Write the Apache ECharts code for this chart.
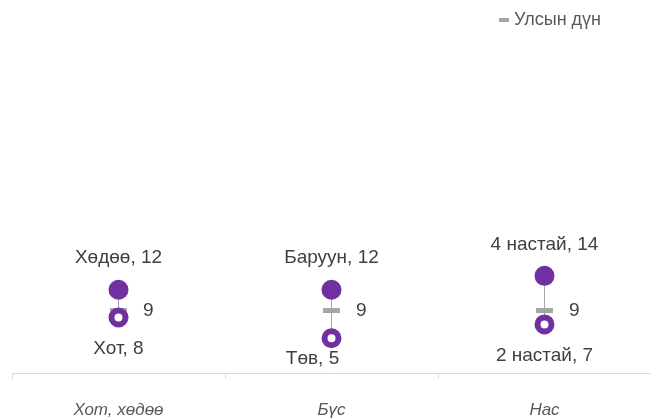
<!DOCTYPE html>
<html>
<head>
<meta charset="utf-8">
<script src="https://cdn.jsdelivr.net/npm/echarts@6/dist/echarts.min.js"></script>
<style>
html,body{margin:0;padding:0;background:#fff;}
#c{width:651px;height:419px;}
</style>
</head>
<body>
<div id="c"></div>
<script>
var categories = ['Хот, хөдөө', 'Бүс', 'Нас'];
var highNames = ['Хөдөө', 'Баруун', '4 настай'];
var highValues = [12, 12, 14];
var lowNames = ['Хот', 'Төв', '2 настай'];
var lowValues = [8, 5, 7];
var nationalName = 'Улсын дүн';
var nationalValues = [9, 9, 9];

var FONT = 'Liberation Sans, Arial, sans-serif';
var PURPLE = '#7030a0';
var GRAY = '#a6a6a6';
var TEXT = '#404040';

var chart = echarts.init(document.getElementById('c'));

var lowData = lowValues.map(function (v, i) {
  var item = { value: v, name: lowNames[i] };
  if (i === 1) {
    item.label = { distance: 1, offset: [-19, 0] };
  }
  return item;
});

var option = {
  animation: false,
  backgroundColor: '#fff',
  grid: { left: 12, width: 643, top: 26, bottom: 46, containLabel: false },
  legend: {
    data: [{ name: nationalName, icon: 'rect' }],
    left: 494, top: 6,
    itemWidth: 10, itemHeight: 4, itemGap: 4,
    textStyle: { color: '#595959', fontSize: 18, fontFamily: FONT }
  },
  xAxis: {
    type: 'category',
    data: categories,
    axisLine: { lineStyle: { color: '#d9d9d9', width: 1 } },
    axisTick: { show: true, length: 6, lineStyle: { color: '#d9d9d9' } },
    axisLabel: { color: '#595959', fontSize: 17, fontStyle: 'italic', fontFamily: FONT, margin: 29 }
  },
  yAxis: {
    type: 'value', min: 0, max: 50, show: false,
    splitLine: { show: false }
  },
  series: [
    {
      type: 'custom',
      name: 'connector',
      silent: true,
      data: categories.map(function (c, i) { return [i, highValues[i], lowValues[i]]; }),
      renderItem: function (params, api) {
        var p1 = api.coord([api.value(0), api.value(1)]);
        var p2 = api.coord([api.value(0), api.value(2)]);
        return {
          type: 'line',
          shape: { x1: p1[0], y1: p1[1], x2: p2[0], y2: p2[1] },
          style: { stroke: GRAY, lineWidth: 1 }
        };
      },
      z: 1
    },
    {
      type: 'scatter',
      name: nationalName,
      data: nationalValues,
      symbol: 'rect',
      symbolSize: [17, 5],
      itemStyle: { color: GRAY, opacity: 1 },
      label: {
        show: true, position: 'right', distance: 16,
        color: TEXT, fontSize: 19, fontFamily: FONT,
        formatter: function (p) { return p.value; }
      },
      z: 3
    },
    {
      type: 'scatter',
      name: 'high',
      data: highValues.map(function (v, i) { return { value: v, name: highNames[i] }; }),
      symbol: 'circle',
      symbolSize: 20,
      itemStyle: { color: PURPLE, opacity: 1 },
      label: {
        show: true, position: 'top', distance: 12,
        color: TEXT, fontSize: 19, fontFamily: FONT,
        formatter: function (p) { return p.name + ', ' + p.value; }
      },
      z: 4
    },
    {
      type: 'scatter',
      name: 'low',
      data: lowData,
      symbol: 'circle',
      symbolSize: 14,
      itemStyle: { color: '#ffffff', borderColor: PURPLE, borderWidth: 6, opacity: 1 },
      label: {
        show: true, position: 'bottom', distance: 12,
        color: TEXT, fontSize: 19, fontFamily: FONT,
        formatter: function (p) { return p.name + ', ' + p.value; }
      },
      z: 4
    }
  ]
};
chart.setOption(option);
</script>
</body>
</html>
